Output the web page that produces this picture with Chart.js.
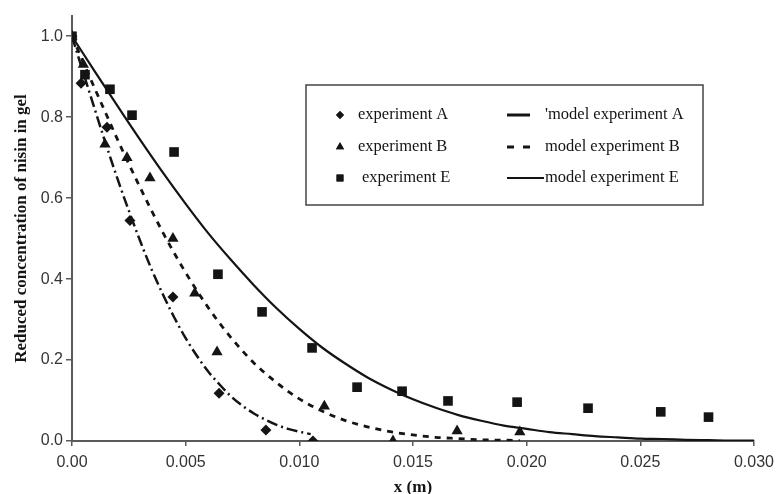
<!DOCTYPE html>
<html>
<head>
<meta charset="utf-8">
<script src="https://cdn.jsdelivr.net/npm/chart.js@4.4.1/dist/chart.umd.min.js"></script>
<style>
  html, body { margin: 0; padding: 0; background: #fff; }
  #wrap { width: 781px; height: 494px; }
</style>
</head>
<body>
<div id="wrap"><canvas id="nisin_chart"></canvas></div>
<script>
// experiment points
const expA_x = [0, 0.0004, 0.00154, 0.00255, 0.00444, 0.00647, 0.00853, 0.0106];
const expA_y = [1.0, 0.884, 0.775, 0.545, 0.356, 0.118, 0.027, 0.0];

const expB_x = [0, 0.0005, 0.00145, 0.00242, 0.00343, 0.00444, 0.0054, 0.00638, 0.0111, 0.01412, 0.01694, 0.0197];
const expB_y = [1.0, 0.93, 0.733, 0.70, 0.65, 0.50, 0.365, 0.22, 0.086, 0.0, 0.025, 0.022];

const expE_x = [0, 0.00057, 0.00167, 0.00264, 0.00449, 0.00642, 0.00836, 0.01056, 0.01254, 0.01452, 0.01654, 0.01958, 0.0227, 0.0259, 0.0280];
const expE_y = [1.0, 0.905, 0.869, 0.805, 0.714, 0.412, 0.319, 0.230, 0.133, 0.123, 0.099, 0.096, 0.081, 0.072, 0.059];

// model curves, sampled along the drawn lines
const modelA_x = [0, 0.0005, 0.001, 0.0015, 0.002, 0.0025, 0.003, 0.0035, 0.004, 0.0045, 0.005, 0.0055, 0.006, 0.0065, 0.007, 0.0075, 0.008, 0.0085, 0.009, 0.0095, 0.010, 0.0105];
const modelA_y = [1.0, 0.909, 0.820, 0.732, 0.648, 0.569, 0.494, 0.424, 0.362, 0.305, 0.254, 0.210, 0.171, 0.139, 0.110, 0.087, 0.068, 0.053, 0.040, 0.030, 0.023, 0.017];

const modelB_x = [0, 0.0005, 0.001, 0.0015, 0.002, 0.003, 0.004, 0.005, 0.006, 0.007, 0.008, 0.009, 0.010, 0.011, 0.012, 0.013, 0.014, 0.015, 0.016, 0.017, 0.018, 0.019, 0.0197];
const modelB_y = [1.0, 0.935, 0.871, 0.808, 0.745, 0.626, 0.515, 0.416, 0.329, 0.255, 0.193, 0.144, 0.104, 0.074, 0.051, 0.035, 0.023, 0.015, 0.009, 0.006, 0.003, 0.002, 0.001];

const modelE_x = [0, 0.001, 0.002, 0.003, 0.004, 0.005, 0.006, 0.007, 0.008, 0.009, 0.010, 0.011, 0.012, 0.013, 0.014, 0.015, 0.016, 0.017, 0.018, 0.019, 0.020, 0.021, 0.022, 0.023, 0.024, 0.025, 0.026, 0.027, 0.028, 0.029, 0.030];
const modelE_y = [1.0, 0.913, 0.828, 0.744, 0.663, 0.586, 0.513, 0.447, 0.385, 0.328, 0.277, 0.231, 0.192, 0.157, 0.128, 0.103, 0.082, 0.064, 0.050, 0.038, 0.030, 0.022, 0.017, 0.012, 0.009, 0.006, 0.005, 0.003, 0.002, 0.001, 0.001];

const ink = '#141414';
const axisGray = '#5a5a5a';
const serif = "'Liberation Serif', 'DejaVu Serif', serif";
const sans = "'Liberation Sans', Arial, sans-serif";

function pts(xs, ys) {
  return xs.map((x, i) => ({ x: x, y: ys[i] }));
}

const data_nisin = {
  datasets: [
    { label: 'experiment A', data: pts(expA_x, expA_y), pointStyle: 'rectRot', pointRadius: 5.5,
      backgroundColor: ink, borderColor: ink, borderWidth: 0, showLine: false },
    { label: 'experiment B', data: pts(expB_x, expB_y), pointStyle: 'triangle', pointRadius: 6.5,
      backgroundColor: ink, borderColor: ink, borderWidth: 0, showLine: false },
    { label: 'experiment E', data: pts(expE_x, expE_y), pointStyle: 'rect', pointRadius: 6.8,
      backgroundColor: ink, borderColor: ink, borderWidth: 0, showLine: false },
    { label: "'model experiment A", data: pts(modelA_x, modelA_y), showLine: true, pointRadius: 0,
      borderColor: ink, borderWidth: 2.5, borderDash: [11, 4, 2, 4], cubicInterpolationMode: 'monotone',
      legendDash: [] },
    { label: 'model experiment B', data: pts(modelB_x, modelB_y), showLine: true, pointRadius: 0,
      borderColor: ink, borderWidth: 2.8, borderDash: [6, 6], cubicInterpolationMode: 'monotone',
      legendDash: [7, 9] },
    { label: 'model experiment E', data: pts(modelE_x, modelE_y), showLine: true, pointRadius: 0,
      borderColor: ink, borderWidth: 2.2, cubicInterpolationMode: 'monotone',
      legendDash: [] },
  ],
};

// boxed legend inside the plot, two columns
const boxLegend = {
  id: 'boxLegend',
  afterDatasetsDraw(chart) {
    const ctx = chart.ctx;
    const ds = chart.data.datasets;
    ctx.save();
    ctx.fillStyle = '#fff';
    ctx.fillRect(306, 85, 397, 120);
    ctx.strokeStyle = '#444';
    ctx.lineWidth = 1.5;
    ctx.strokeRect(306, 85, 397, 120);
    const rows = [115, 147, 178];
    ctx.font = '16.5px ' + serif;
    ctx.textBaseline = 'middle';
    ctx.fillStyle = ink;
    for (let i = 0; i < 3; i++) {
      const d = ds[i];
      Chart.helpers.drawPoint(ctx, {
        pointStyle: d.pointStyle, radius: d.pointRadius * 0.72, rotation: 0, borderWidth: 0,
      }, 340, rows[i]);
      ctx.fill();
      ctx.fillText(d.label, i === 2 ? 362 : 358, rows[i]);
    }
    for (let i = 3; i < 6; i++) {
      const d = ds[i];
      const y = rows[i - 3];
      ctx.beginPath();
      ctx.setLineDash(d.legendDash);
      ctx.lineWidth = i === 5 ? 2 : 3;
      ctx.strokeStyle = ink;
      ctx.moveTo(507, y);
      ctx.lineTo(i === 5 ? 544 : 530, y);
      ctx.stroke();
      ctx.setLineDash([]);
      ctx.fillText(d.label, 545, y);
    }
    ctx.restore();
  },
};

const options_nisin = {
  responsive: true,
  maintainAspectRatio: false,
  animation: false,
  layout: { padding: { top: 16, right: 27, left: 0, bottom: 0 } },
  scales: {
    x: {
      type: 'linear',
      min: 0,
      max: 0.03,
      afterFit(scale) { scale.height = 53; },
      ticks: {
        stepSize: 0.005,
        padding: 7,
        color: '#333',
        font: { family: sans, size: 16 },
        callback: (v) => (v === 0 ? '0.00' : v.toFixed(3)),
      },
      grid: { drawOnChartArea: false, drawTicks: true, tickLength: 5, color: axisGray, lineWidth: 1.5 },
      border: { display: true, color: axisGray, width: 2 },
      title: {
        display: true,
        text: 'x (m)',
        color: ink,
        font: { family: serif, size: 17, weight: 'bold', lineHeight: 0.8 },
        padding: 0,
      },
    },
    y: {
      type: 'linear',
      min: 0,
      max: 1.05,
      afterFit(scale) { scale.width = 72; },
      ticks: {
        stepSize: 0.2,
        includeBounds: false,
        padding: 3,
        color: '#333',
        font: { family: sans, size: 16 },
        callback: (v) => v.toFixed(1),
      },
      grid: { drawOnChartArea: false, drawTicks: true, tickLength: 6, color: axisGray, lineWidth: 1.5 },
      border: { display: true, color: axisGray, width: 2 },
      title: {
        display: true,
        text: 'Reduced concentration of nisin in gel',
        color: ink,
        font: { family: serif, size: 17, weight: 'bold' },
        padding: { top: 11, bottom: 0 },
      },
    },
  },
  plugins: {
    legend: { display: false },
    tooltip: { enabled: false },
  },
};

const ctx_nisin = document.getElementById('nisin_chart');
const chart_nisin = new Chart(ctx_nisin, {
  type: 'scatter',
  data: data_nisin,
  options: options_nisin,
  plugins: [boxLegend],
});
</script>
</body>
</html>
